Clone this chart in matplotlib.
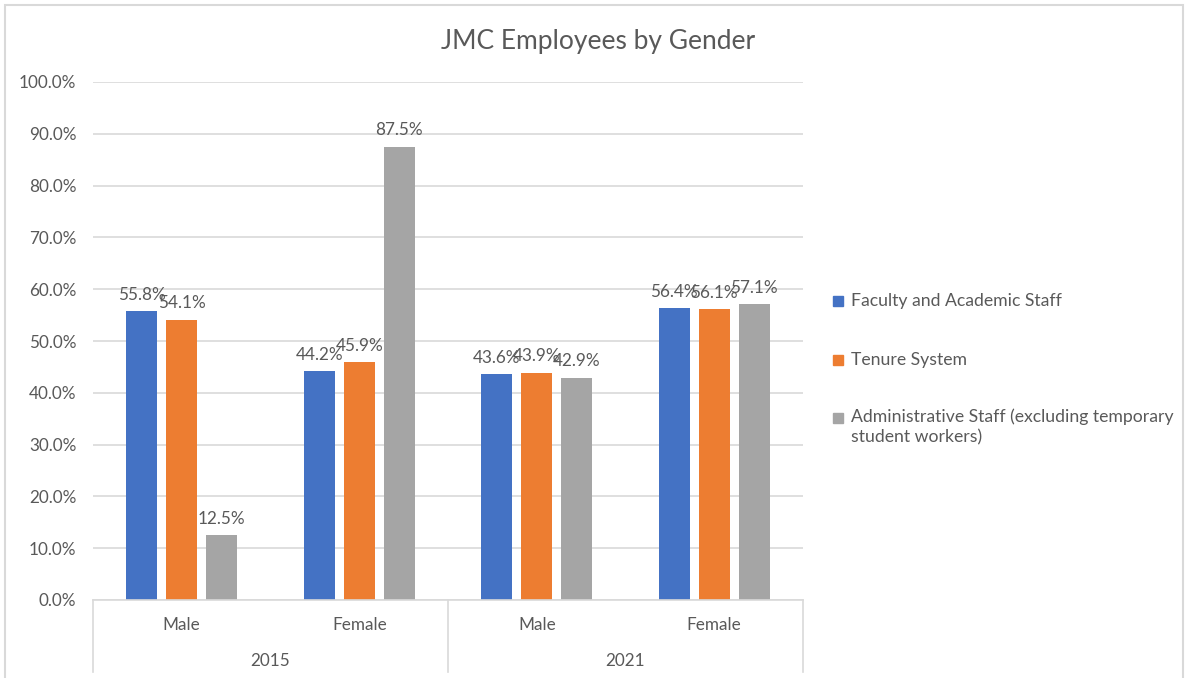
import matplotlib
matplotlib.use("Agg")
import matplotlib.pyplot as plt
from matplotlib.patches import Rectangle
from matplotlib.lines import Line2D
from matplotlib.transforms import blended_transform_factory

plt.rcParams['font.family'] = ['Lato', 'DejaVu Sans']

# Data
years = ["2015", "2021"]
genders = ["Male", "Female", "Male", "Female"]
series_names = [
    "Faculty and Academic Staff",
    "Tenure System",
    "Administrative Staff (excluding temporary\nstudent workers)",
]
faculty = [55.8, 44.2, 43.6, 56.4]
tenure = [54.1, 45.9, 43.9, 56.1]
admin = [12.5, 87.5, 42.9, 57.1]
series_values = [faculty, tenure, admin]
colors = ["#4472C4", "#ED7D31", "#A5A5A5"]
yticks = [0, 10, 20, 30, 40, 50, 60, 70, 80, 90, 100]

W, H = 1187, 678
TEXT = "#595959"
GRID = "#d9d9d9"
fig = plt.figure(figsize=(W / 100, H / 100), dpi=100)
fig.patch.set_facecolor("white")

def fx(px):
    return px / W

def fy(py):
    return 1 - py / H

# Outer chart border
fig.patches.append(Rectangle((fx(5), fy(700)), fx(1178), (700 - 5) / H,
                             transform=fig.transFigure, fill=False,
                             edgecolor=GRID, linewidth=1.5))

ax = fig.add_axes([fx(93), fy(600), fx(803) - fx(93), fy(82) - fy(600)])
ax.set_xlim(-0.5, 3.5)
ax.set_ylim(0, 100)
for s in ax.spines.values():
    s.set_visible(False)
ax.set_yticks(yticks)
ax.set_yticklabels([f"{v:.1f}%" for v in yticks], color=TEXT, fontsize=12.3)
ax.tick_params(axis="y", length=0, pad=12)
ax.set_xticks([])
ax.yaxis.grid(True, color=GRID, linewidth=1.2)
ax.set_axisbelow(True)

bar_w = 0.175
offsets = [-0.225, 0.0, 0.225]
xs = list(range(len(genders)))
for vals, off, col in zip(series_values, offsets, colors):
    bars = ax.bar([x + off for x in xs], vals, width=bar_w, color=col, zorder=2)
    for b, v in zip(bars, vals):
        ax.annotate(f"{v:.1f}%", (b.get_x() + b.get_width() / 2, v),
                    xytext=(0, 6), textcoords="offset points",
                    ha="center", va="bottom", fontsize=12.3, color=TEXT)

# Two-level category axis: gender, then year
trans = blended_transform_factory(ax.transData, fig.transFigure)
for x, g in zip(xs, genders):
    ax.text(x, fy(625), g, transform=trans, ha="center", va="center",
            fontsize=12.3, color=TEXT)
for i, yr in enumerate(years):
    ax.text(2 * i + 0.5, fy(661), yr, transform=trans, ha="center", va="center",
            fontsize=12.3, color=TEXT)
for xb in [-0.5, 1.5, 3.5]:
    ax.add_line(Line2D([xb, xb], [fy(600), fy(672)], transform=trans,
                       color=GRID, linewidth=1.2, clip_on=False))
ax.add_line(Line2D([-0.5, 3.5], [0, 0], color=GRID, linewidth=1.2,
                   clip_on=False, zorder=3))

# Title
fig.text(fx(598), fy(41), "JMC Employees by Gender", ha="center", va="center",
         fontsize=19, color=TEXT)

# Legend
leg_rows = [301, 360, 418]
for name, col, yp in zip(series_names, colors, leg_rows):
    fig.patches.append(Rectangle((fx(833), fy(yp + 5)), fx(10), 10 / H,
                                 transform=fig.transFigure, color=col))
    if "\n" in name:
        fig.text(fx(851), fy(yp - 10), name, ha="left", va="top",
                 fontsize=12.7, color=TEXT, linespacing=1.35)
    else:
        fig.text(fx(851), fy(yp), name, ha="left", va="center",
                 fontsize=12.7, color=TEXT)

fig.savefig("out.png", dpi=100, facecolor="white")
